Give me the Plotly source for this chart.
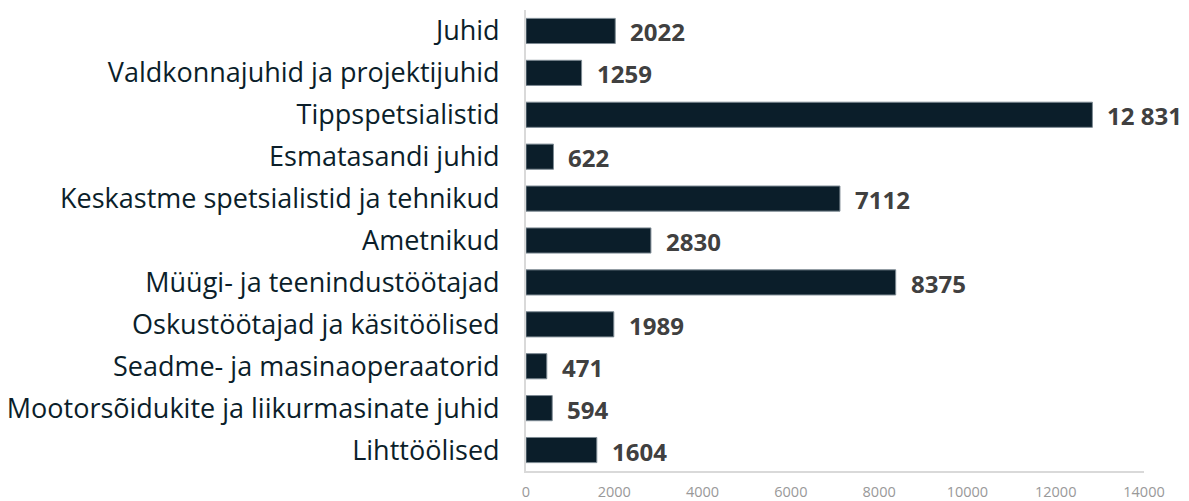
import plotly.graph_objects as go

categories = [
    "Juhid",
    "Valdkonnajuhid ja projektijuhid",
    "Tippspetsialistid",
    "Esmatasandi juhid",
    "Keskastme spetsialistid ja tehnikud",
    "Ametnikud",
    "Müügi- ja teenindustöötajad",
    "Oskustöötajad ja käsitöölised",
    "Seadme- ja masinaoperaatorid",
    "Mootorsõidukite ja liikurmasinate juhid",
    "Lihttöölised",
]
values = [2022, 1259, 12831, 622, 7112, 2830, 8375, 1989, 471, 594, 1604]
tick_values = [0, 2000, 4000, 6000, 8000, 10000, 12000, 14000]
tick_labels = ["0", "2000", "4000", "6000", "8000", "10000", "12000", "14000"]


def fmt(v):
    if v >= 10000:
        return f"{v:,}".replace(",", " ")
    return str(v)


fig = go.Figure()
fig.add_trace(go.Bar(
    y=categories,
    x=values,
    orientation="h",
    marker=dict(color="#0b1e2a", line=dict(color="#7d8a93", width=1)),
    hoverinfo="x+y",
))

for c, v in zip(categories, values):
    fig.add_annotation(
        x=v, y=c, text=fmt(v), showarrow=False,
        xanchor="left", xshift=13, yshift=-1,
        font=dict(family="Open Sans", size=24, color="#404040", weight="bold"),
    )

# page body has an 8px default margin, so the figure is sized to fit the window
fig.update_layout(
    width=1181, height=493,
    margin=dict(l=518, r=45, t=2, b=30),
    paper_bgcolor="white", plot_bgcolor="white",
    bargap=0.4,
    showlegend=False,
    font=dict(family="Open Sans"),
)
fig.update_xaxes(
    range=[0, 14000], tickvals=tick_values, ticktext=tick_labels,
    showgrid=False, zeroline=False, automargin=False,
    showline=True, linecolor="#d9d9d9", linewidth=2,
    ticks="", ticklabelstandoff=7,
    tickfont=dict(family="Open Sans", size=14.5, color="#999999"),
)
fig.update_yaxes(
    categoryorder="array", categoryarray=categories, autorange="reversed",
    showgrid=False, zeroline=False, automargin=False,
    showline=True, linecolor="#d9d9d9", linewidth=2,
    ticks="", ticklabelstandoff=19,
    tickfont=dict(family="Open Sans", size=27, color="#0b1e2a"),
)

fig.write_html("out.html")
